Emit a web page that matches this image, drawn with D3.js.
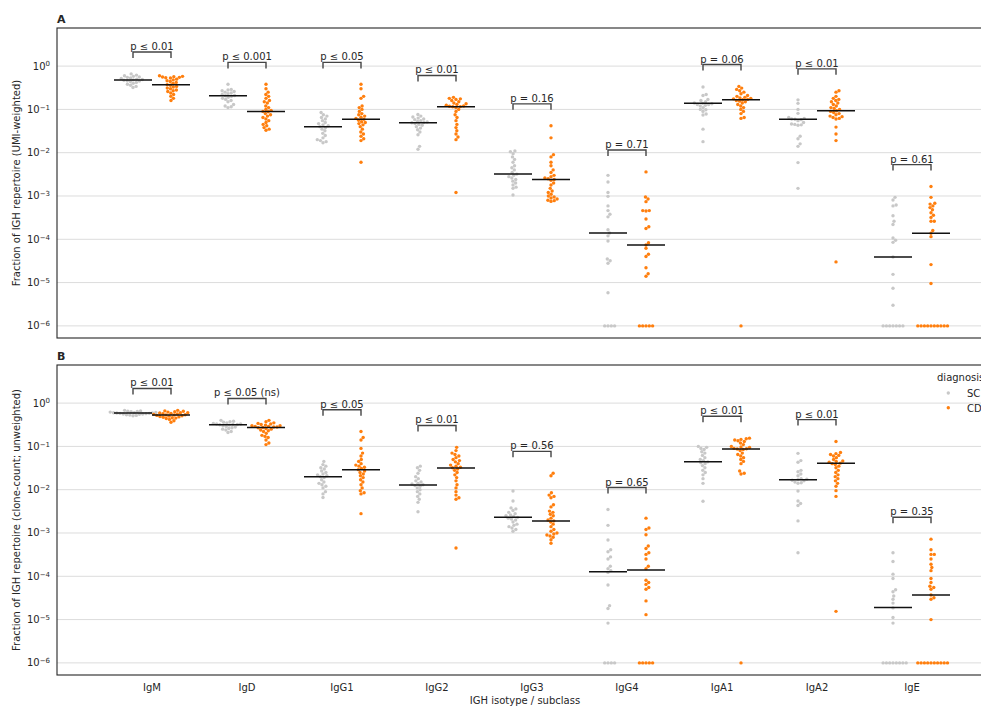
<!DOCTYPE html>
<html>
  <head>
    <title>IGH isotype fractions</title>
    <meta charset="utf-8" />
    <script src="https://d3js.org/d3.v7.min.js"></script>
    <style>
      body { margin: 0; background: #fff; }
      text { font-family: "DejaVu Sans", sans-serif; fill: #262626; }
    </style>
  </head>
  <body>
    <svg id="chart" width="981" height="707"></svg>

    <script>
      // Categories and groups
      const isotypes = ["IgM", "IgD", "IgG1", "IgG2", "IgG3", "IgG4", "IgA1", "IgA2", "IgE"];
      const diagnoses = ["SC", "CD"];
      const yTicks = [1, 1e-1, 1e-2, 1e-3, 1e-4, 1e-5, 1e-6];

      // Panel A: UMI-weighted fractions, one list per isotype
      const umiSC = [
        [0.66, 0.62, 0.6, 0.58, 0.56, 0.55, 0.53, 0.52, 0.5, 0.49, 0.48, 0.47, 0.46, 0.45, 0.44, 0.42, 0.4, 0.38, 0.36, 0.34, 0.32],
        [0.38, 0.29, 0.28, 0.27, 0.26, 0.25, 0.24, 0.23, 0.22, 0.21, 0.206, 0.2, 0.19, 0.18, 0.17, 0.16, 0.15, 0.13, 0.12, 0.115, 0.11],
        [0.085, 0.075, 0.07, 0.065, 0.06, 0.055, 0.05, 0.047, 0.044, 0.042, 0.04, 0.038, 0.035, 0.032, 0.028, 0.025, 0.022, 0.02, 0.019, 0.018, 0.017],
        [0.076, 0.07, 0.067, 0.063, 0.06, 0.058, 0.055, 0.053, 0.051, 0.05, 0.049, 0.047, 0.045, 0.043, 0.04, 0.037, 0.034, 0.03, 0.026, 0.014, 0.012],
        [0.011, 0.0105, 0.0095, 0.008, 0.007, 0.006, 0.005, 0.0045, 0.004, 0.0035, 0.0032, 0.003, 0.0028, 0.0026, 0.0024, 0.0022, 0.002, 0.0018, 0.0016, 0.0015, 0.00105],
        [3.0e-3, 2.1e-3, 1.2e-3, 9.8e-4, 5.9e-4, 4.6e-4, 3.8e-4, 3.3e-4, 1.66e-4, 1.4e-4, 1.2e-4, 9.1e-5, 3.5e-5, 3.2e-5, 2.8e-5, 5.8e-6, 1e-6, 1e-6, 1e-6, 1e-6],
        [0.33, 0.22, 0.21, 0.17, 0.16, 0.15, 0.14, 0.138, 0.135, 0.13, 0.13, 0.125, 0.12, 0.11, 0.1, 0.098, 0.09, 0.078, 0.074, 0.035, 0.018],
        [0.166, 0.138, 0.1, 0.081, 0.065, 0.062, 0.06, 0.059, 0.058, 0.055, 0.05, 0.046, 0.045, 0.044, 0.043, 0.024, 0.021, 0.016, 0.014, 0.0059, 0.0015],
        [9.3e-4, 8.1e-4, 6.2e-4, 5.9e-4, 3.5e-4, 2.6e-4, 2.2e-4, 1.07e-4, 9.5e-5, 8.5e-5, 3.9e-5, 1.55e-5, 7.4e-6, 3.0e-6, 1e-6, 1e-6, 1e-6, 1e-6, 1e-6, 1e-6, 1e-6]
      ];
      const umiCD = [
        [0.6, 0.58, 0.57, 0.56, 0.55, 0.54, 0.53, 0.5, 0.48, 0.46, 0.44, 0.42, 0.4, 0.37, 0.36, 0.34, 0.33, 0.31, 0.3, 0.28, 0.27, 0.26, 0.24, 0.22, 0.2, 0.18, 0.16],
        [0.38, 0.3, 0.25, 0.22, 0.2, 0.18, 0.16, 0.15, 0.14, 0.12, 0.11, 0.1, 0.095, 0.09, 0.088, 0.08, 0.075, 0.07, 0.065, 0.06, 0.055, 0.05, 0.045, 0.042, 0.038, 0.035, 0.033],
        [0.38, 0.3, 0.2, 0.18, 0.12, 0.11, 0.1, 0.09, 0.08, 0.075, 0.07, 0.066, 0.062, 0.059, 0.056, 0.052, 0.05, 0.047, 0.044, 0.04, 0.035, 0.03, 0.027, 0.024, 0.021, 0.019, 0.006],
        [0.19, 0.18, 0.175, 0.17, 0.16, 0.15, 0.14, 0.135, 0.13, 0.125, 0.12, 0.118, 0.116, 0.115, 0.11, 0.1, 0.09, 0.075, 0.065, 0.055, 0.045, 0.038, 0.032, 0.027, 0.023, 0.02, 0.0012],
        [0.042, 0.022, 0.009, 0.008, 0.006, 0.005, 0.004, 0.0035, 0.003, 0.0028, 0.0026, 0.0025, 0.0024, 0.0023, 0.002, 0.0018, 0.0015, 0.0013, 0.0012, 0.0011, 0.001, 0.00095, 0.0009, 0.00085, 0.0008, 0.00078, 0.00075],
        [3.6e-3, 9.5e-4, 8.5e-4, 7.4e-4, 4.6e-4, 4.6e-4, 4.5e-4, 2.95e-4, 1.95e-4, 1.78e-4, 8.3e-5, 7.4e-5, 6.2e-5, 4.5e-5, 4.0e-5, 2.2e-5, 1.6e-5, 1.4e-5, 1e-6, 1e-6, 1e-6, 1e-6, 1e-6],
        [0.34, 0.31, 0.29, 0.27, 0.25, 0.23, 0.21, 0.2, 0.19, 0.185, 0.18, 0.175, 0.17, 0.167, 0.16, 0.155, 0.15, 0.14, 0.13, 0.12, 0.11, 0.1, 0.09, 0.08, 0.065, 0.062, 1e-6],
        [0.27, 0.25, 0.2, 0.18, 0.17, 0.16, 0.15, 0.14, 0.13, 0.12, 0.11, 0.105, 0.1, 0.093, 0.09, 0.085, 0.08, 0.075, 0.07, 0.068, 0.065, 0.062, 0.06, 0.039, 0.027, 0.019, 3e-5],
        [1.66e-3, 9.3e-4, 6.8e-4, 6.5e-4, 5.9e-4, 5.4e-4, 4.8e-4, 4.1e-4, 3.6e-4, 3.2e-4, 2.6e-4, 2.6e-4, 1.6e-4, 1.38e-4, 1.15e-4, 2.6e-5, 9.5e-6, 1e-6, 1e-6, 1e-6, 1e-6, 1e-6, 1e-6, 1e-6, 1e-6, 1e-6, 1e-6]
      ];
      const umiMedSC = [0.48, 0.206, 0.04, 0.049, 0.0032, 1.4e-4, 0.138, 0.059, 3.9e-5];
      const umiMedCD = [0.37, 0.09, 0.059, 0.115, 0.0024, 7.4e-5, 0.167, 0.093, 1.38e-4];
      const umiP = ["p ≤ 0.01", "p ≤ 0.001", "p ≤ 0.05", "p ≤ 0.01", "p = 0.16", "p = 0.71", "p = 0.06", "p ≤ 0.01", "p = 0.61"];

      // Panel B: clone-count fractions
      const cloneSC = [
        [0.68, 0.66, 0.65, 0.64, 0.63, 0.62, 0.61, 0.6, 0.6, 0.59, 0.59, 0.58, 0.58, 0.57, 0.56, 0.56, 0.55, 0.54, 0.53, 0.52, 0.51],
        [0.4, 0.38, 0.37, 0.36, 0.35, 0.34, 0.33, 0.33, 0.32, 0.32, 0.315, 0.31, 0.3, 0.29, 0.28, 0.27, 0.26, 0.25, 0.24, 0.22, 0.21],
        [0.045, 0.038, 0.035, 0.032, 0.03, 0.027, 0.025, 0.023, 0.022, 0.021, 0.02, 0.019, 0.017, 0.015, 0.014, 0.013, 0.012, 0.011, 0.009, 0.008, 0.0066],
        [0.035, 0.032, 0.028, 0.024, 0.02, 0.018, 0.016, 0.015, 0.014, 0.0135, 0.013, 0.0125, 0.012, 0.011, 0.01, 0.009, 0.008, 0.007, 0.006, 0.0051, 0.0031],
        [0.0093, 0.0055, 0.0038, 0.0036, 0.0033, 0.003, 0.0028, 0.0026, 0.0025, 0.0024, 0.0023, 0.0022, 0.0021, 0.002, 0.0018, 0.0016, 0.0015, 0.0014, 0.0013, 0.0012, 0.0011],
        [3.5e-3, 1.5e-3, 6.9e-4, 4.1e-4, 3.7e-4, 2.8e-4, 2.5e-4, 1.7e-4, 1.5e-4, 1.35e-4, 1.23e-4, 6.3e-5, 2.1e-5, 1.8e-5, 8.3e-6, 1e-6, 1e-6, 1e-6, 1e-6],
        [0.1, 0.095, 0.09, 0.085, 0.075, 0.07, 0.062, 0.055, 0.05, 0.047, 0.044, 0.042, 0.04, 0.036, 0.032, 0.028, 0.025, 0.022, 0.018, 0.014, 0.0054],
        [0.069, 0.047, 0.043, 0.028, 0.026, 0.023, 0.021, 0.018, 0.0175, 0.017, 0.0165, 0.016, 0.015, 0.0145, 0.014, 0.0093, 0.0055, 0.0048, 0.0043, 0.0019, 0.00035],
        [3.5e-4, 2.2e-4, 1.12e-4, 8.9e-5, 4.9e-5, 4.4e-5, 3.5e-5, 2.95e-5, 2.4e-5, 1.86e-5, 1.12e-5, 8.3e-6, 1e-6, 1e-6, 1e-6, 1e-6, 1e-6, 1e-6, 1e-6, 1e-6]
      ];
      const cloneCD = [
        [0.68, 0.66, 0.65, 0.63, 0.62, 0.6, 0.6, 0.59, 0.58, 0.57, 0.56, 0.55, 0.54, 0.53, 0.53, 0.52, 0.51, 0.5, 0.49, 0.48, 0.47, 0.46, 0.45, 0.44, 0.42, 0.39, 0.36],
        [0.4, 0.37, 0.35, 0.34, 0.33, 0.32, 0.31, 0.3, 0.3, 0.29, 0.29, 0.28, 0.28, 0.275, 0.27, 0.26, 0.25, 0.24, 0.23, 0.22, 0.2, 0.18, 0.17, 0.16, 0.14, 0.12, 0.11],
        [0.22, 0.16, 0.14, 0.09, 0.07, 0.06, 0.05, 0.045, 0.04, 0.037, 0.035, 0.033, 0.031, 0.029, 0.027, 0.025, 0.023, 0.021, 0.019, 0.017, 0.015, 0.013, 0.011, 0.0095, 0.0085, 0.008, 0.0028],
        [0.095, 0.08, 0.07, 0.065, 0.06, 0.055, 0.05, 0.047, 0.044, 0.04, 0.037, 0.035, 0.033, 0.032, 0.03, 0.028, 0.025, 0.022, 0.019, 0.016, 0.013, 0.011, 0.009, 0.0075, 0.0065, 0.006, 0.00045],
        [0.024, 0.021, 0.0085, 0.0075, 0.007, 0.0065, 0.0045, 0.004, 0.0032, 0.003, 0.0027, 0.0025, 0.0022, 0.002, 0.0019, 0.0018, 0.0016, 0.0014, 0.0012, 0.0011, 0.001, 0.00095, 0.0009, 0.00085, 0.0008, 0.0007, 0.00058],
        [2.2e-3, 1.3e-3, 1.2e-3, 9.1e-4, 5.0e-4, 4.4e-4, 3.5e-4, 3.2e-4, 2.5e-4, 1.7e-4, 1.5e-4, 8.1e-5, 7.2e-5, 6.5e-5, 5.5e-5, 5.0e-5, 2.7e-5, 1.3e-5, 1e-6, 1e-6, 1e-6, 1e-6, 1e-6],
        [0.155, 0.15, 0.145, 0.14, 0.135, 0.13, 0.12, 0.11, 0.1, 0.097, 0.094, 0.09, 0.088, 0.087, 0.085, 0.08, 0.07, 0.065, 0.06, 0.055, 0.05, 0.045, 0.04, 0.027, 0.024, 0.023, 1e-6],
        [0.13, 0.072, 0.068, 0.065, 0.062, 0.06, 0.055, 0.05, 0.046, 0.045, 0.043, 0.041, 0.04, 0.038, 0.035, 0.032, 0.028, 0.025, 0.022, 0.02, 0.018, 0.016, 0.014, 0.012, 0.0095, 0.007, 1.55e-5],
        [7.2e-4, 4.1e-4, 3.2e-4, 3.2e-4, 2.5e-4, 1.9e-4, 1.6e-4, 1.35e-4, 8.9e-5, 7.2e-5, 5.9e-5, 5.5e-5, 5.0e-5, 3.7e-5, 3.2e-5, 2.95e-5, 1.0e-5, 1e-6, 1e-6, 1e-6, 1e-6, 1e-6, 1e-6, 1e-6, 1e-6, 1e-6, 1e-6]
      ];
      const cloneMedSC = [0.59, 0.316, 0.02, 0.0129, 0.0023, 1.27e-4, 0.044, 0.017, 1.9e-5];
      const cloneMedCD = [0.53, 0.274, 0.029, 0.0316, 0.0019, 1.4e-4, 0.087, 0.041, 3.7e-5];
      const cloneP = ["p ≤ 0.01", "p ≤ 0.05 (ns)", "p ≤ 0.05", "p ≤ 0.01", "p = 0.56", "p = 0.65", "p ≤ 0.01", "p ≤ 0.01", "p = 0.35"];

      const colors = { SC: "#c8c8c8", CD: "#ff7f0e" };

      const svg = d3.select("#chart");
      const step = 95;

      // Category positions (axes span one extra step on each side)
      const x = d3
        .scalePoint()
        .domain(isotypes)
        .range([152, 152 + step * (isotypes.length - 1)]);
      const hueOffset = { SC: -0.2 * step, CD: 0.2 * step };
      const axLeft = x(isotypes[0]) - step;
      const axRight = x(isotypes[isotypes.length - 1]) + step;

      const panels = [
        { letter: "A", top: 28, bottom: 338, sc: umiSC, cd: umiCD, medSC: umiMedSC, medCD: umiMedCD, p: umiP,
          ylabel: "Fraction of IGH repertoire (UMI-weighted)" },
        { letter: "B", top: 365, bottom: 675, sc: cloneSC, cd: cloneCD, medSC: cloneMedSC, medCD: cloneMedCD, p: cloneP,
          ylabel: "Fraction of IGH repertoire (clone-count; unweighted)" }
      ];

      const r = 1.7;
      const gap = 3.3;

      // Simple beeswarm: place points by value, nearest free spot to the centre
      function swarm(values, y) {
        const pts = values.map((v) => ({ v, py: y(v), dx: 0 })).sort((a, b) => a.v - b.v);
        const placed = [];
        pts.forEach((p) => {
          const near = placed.filter((q) => Math.abs(q.py - p.py) < gap);
          const cand = [0];
          near.forEach((q) => {
            const dx = Math.sqrt(gap * gap - (q.py - p.py) ** 2);
            cand.push(q.dx + dx, q.dx - dx);
          });
          cand.sort((a, b) => Math.abs(a) - Math.abs(b));
          for (const c of cand) {
            const ok = near.every((q) => (q.dx - c) ** 2 + (q.py - p.py) ** 2 >= gap * gap - 1e-6);
            if (ok) { p.dx = c; break; }
          }
          placed.push(p);
        });
        return placed;
      }

      function superscriptTick(sel, v) {
        const e = Math.round(Math.log10(v));
        sel.append("tspan").text("10");
        sel.append("tspan")
          .attr("dy", "-0.45em")
          .attr("font-size", "7px")
          .text(e < 0 ? "−" + Math.abs(e) : String(e));
      }

      panels.forEach((pn) => {
        const y = d3
          .scaleLog()
          .domain([10 ** -6.28, 10 ** 0.88])
          .range([pn.bottom, pn.top]);

        const g = svg.append("g");

        // Gridlines
        g.selectAll(".grid")
          .data(yTicks)
          .join("line")
          .attr("x1", axLeft)
          .attr("x2", axRight)
          .attr("y1", (d) => y(d))
          .attr("y2", (d) => y(d))
          .attr("stroke", "#dcdcdc")
          .attr("stroke-width", 1);

        // Y tick labels
        g.selectAll(".ytick")
          .data(yTicks)
          .join("text")
          .attr("x", 50)
          .attr("y", (d) => y(d) + 3.5)
          .attr("text-anchor", "end")
          .attr("font-size", "10px")
          .each(function (d) { superscriptTick(d3.select(this), d); });

        // Points
        isotypes.forEach((iso, i) => {
          diagnoses.forEach((dg) => {
            const vals = dg === "SC" ? pn.sc[i] : pn.cd[i];
            const cx = x(iso) + hueOffset[dg];
            g.append("g")
              .selectAll("circle")
              .data(swarm(vals, y))
              .join("circle")
              .attr("cx", (d) => cx + d.dx)
              .attr("cy", (d) => d.py)
              .attr("r", r)
              .attr("fill", colors[dg]);

            // Median line
            const med = dg === "SC" ? pn.medSC[i] : pn.medCD[i];
            g.append("line")
              .attr("x1", cx - 0.2 * step)
              .attr("x2", cx + 0.2 * step)
              .attr("y1", y(med))
              .attr("y2", y(med))
              .attr("stroke", "#111")
              .attr("stroke-width", 1.5);
          });

          // Significance bracket above the higher group
          const top = d3.max(pn.sc[i].concat(pn.cd[i])) * 3.2;
          const by = y(top);
          const xa = x(iso) + hueOffset.SC;
          const xb = x(iso) + hueOffset.CD;
          g.append("path")
            .attr("d", `M${xa},${by + 6}V${by}H${xb}V${by + 6}`)
            .attr("fill", "none")
            .attr("stroke", "#444")
            .attr("stroke-width", 1.4);
          g.append("text")
            .attr("x", x(iso))
            .attr("y", by - 2)
            .attr("text-anchor", "middle")
            .attr("font-size", "10px")
            .text(pn.p[i]);
        });

        // Frame
        g.append("rect")
          .attr("x", axLeft)
          .attr("y", pn.top)
          .attr("width", axRight - axLeft)
          .attr("height", pn.bottom - pn.top)
          .attr("fill", "none")
          .attr("stroke", "#262626")
          .attr("stroke-width", 1.1);

        // Panel letter
        svg.append("text")
          .attr("x", 57)
          .attr("y", pn.top - 5.5)
          .attr("font-size", "11px")
          .attr("font-weight", "bold")
          .text(pn.letter);

        // Y axis label
        svg.append("text")
          .attr("transform", `translate(20,${(pn.top + pn.bottom) / 2}) rotate(-90)`)
          .attr("text-anchor", "middle")
          .attr("font-size", "10px")
          .text(pn.ylabel);

        // X tick labels only under the bottom panel
        if (pn.letter === "B") {
          svg.append("g")
            .selectAll("text")
            .data(isotypes)
            .join("text")
            .attr("x", (d) => x(d))
            .attr("y", pn.bottom + 15.5)
            .attr("text-anchor", "middle")
            .attr("font-size", "10px")
            .text((d) => d);
        }
      });

      // X axis label
      svg.append("text")
        .attr("x", 525)
        .attr("y", 704)
        .attr("text-anchor", "middle")
        .attr("font-size", "10px")
        .text("IGH isotype / subclass");

      // Legend (clipped by the right edge, as in the source figure)
      const legend = svg.append("g");
      legend.append("text")
        .attr("x", 937)
        .attr("y", 380.5)
        .attr("font-size", "10px")
        .text("diagnosis");
      diagnoses.forEach((dg, i) => {
        legend.append("circle")
          .attr("cx", 948.3)
          .attr("cy", 393 + i * 14.7)
          .attr("r", r)
          .attr("fill", colors[dg]);
        legend.append("text")
          .attr("x", 967)
          .attr("y", 396.8 + i * 14.7)
          .attr("font-size", "10px")
          .text(dg);
      });
    </script>
  </body>
</html>
